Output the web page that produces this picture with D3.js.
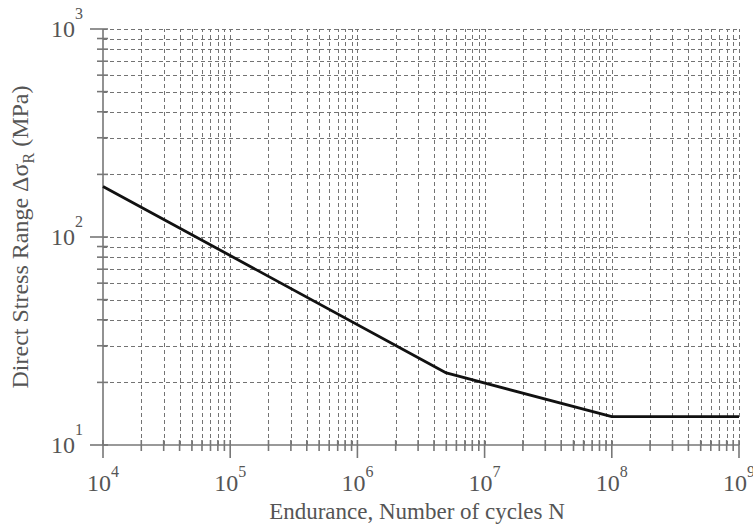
<!DOCTYPE html>
<html>
<head>
<meta charset="utf-8">
<script src="https://cdn.jsdelivr.net/npm/d3@7"></script>
<style>
  html, body { margin: 0; padding: 0; background: #fff; }
  svg { display: block; }
</style>
</head>
<body>
<svg id="chart" width="753" height="526"></svg>
<script>
// S-N curve: endurance (cycles) vs direct stress range (MPa)
const cycles = [1e4, 5e6, 1e8, 1e9];
const stressRange = [175, 22.2, 13.7, 13.7];

const xDecades = [4, 5, 6, 7, 8, 9];
const yDecades = [1, 2, 3];

const width = 753, height = 526;
const margin = { top: 29, right: 14, bottom: 81, left: 103 };
const serif = '"Liberation Serif"';
const textColor = "#555";

const svg = d3.select("#chart");

const x = d3.scaleLog()
  .domain([1e4, 1e9])
  .range([margin.left, width - margin.right]);
const y = d3.scaleLog()
  .domain([10, 1000])
  .range([height - margin.bottom, margin.top]);

// all decade and sub-decade values
function logValues(decades) {
  const vals = [];
  for (let i = 0; i < decades.length - 1; i++) {
    for (let k = 1; k <= 9; k++) vals.push(k * Math.pow(10, decades[i]));
  }
  vals.push(Math.pow(10, decades[decades.length - 1]));
  return vals;
}
const xVals = logValues(xDecades);
const yVals = logValues(yDecades);
const isMajor = v => Math.abs(Math.log10(v) - Math.round(Math.log10(v))) < 1e-9;

const x0 = x.range()[0], x1 = x.range()[1];
const y0 = y.range()[0], y1 = y.range()[1];

// dashed grid
const grid = svg.append("g")
  .attr("stroke", "#737373")
  .attr("stroke-width", 1)
  .attr("stroke-dasharray", "4,3")
  .attr("fill", "none");

grid.selectAll("line.v")
  .data(xVals.filter(v => v > 1e4))
  .join("line")
  .attr("class", "v")
  .attr("x1", d => Math.round(x(d)) + 0.5)
  .attr("x2", d => Math.round(x(d)) + 0.5)
  .attr("y1", y0)
  .attr("y2", y1);

grid.selectAll("line.h")
  .data(yVals.filter(v => v > 10))
  .join("line")
  .attr("class", "h")
  .attr("x1", x0)
  .attr("x2", x1)
  .attr("y1", d => Math.round(y(d)) + 0.5)
  .attr("y2", d => Math.round(y(d)) + 0.5);

// axes
const axes = svg.append("g").attr("stroke", "#777").attr("stroke-width", 1.6);

axes.append("line")
  .attr("x1", x0).attr("x2", x1)
  .attr("y1", y0).attr("y2", y0);
axes.append("line")
  .attr("x1", x0).attr("x2", x0)
  .attr("y1", y0).attr("y2", y1);

axes.selectAll("line.xt")
  .data(xVals)
  .join("line")
  .attr("class", "xt")
  .attr("x1", d => x(d)).attr("x2", d => x(d))
  .attr("y1", y0 - 5)
  .attr("y2", d => y0 + (isMajor(d) ? 13 : 6));

axes.selectAll("line.yt")
  .data(yVals)
  .join("line")
  .attr("class", "yt")
  .attr("y1", d => y(d)).attr("y2", d => y(d))
  .attr("x1", x0 + 5)
  .attr("x2", d => x0 - (isMajor(d) ? 13 : 6));

// tick labels as powers of ten
const xLab = svg.append("g").selectAll("text")
  .data(xDecades)
  .join("text")
  .style("font-family", serif)
  .attr("x", d => x(Math.pow(10, d)))
  .attr("y", y0 + 46)
  .attr("text-anchor", "middle")
  .attr("fill", textColor)
  .attr("font-size", 24);
xLab.append("tspan").text("10");
xLab.append("tspan").attr("dy", -14).attr("font-size", 16).text(d => d);

const yLab = svg.append("g").selectAll("text")
  .data(yDecades)
  .join("text")
  .style("font-family", serif)
  .attr("x", x0 - 20)
  .attr("y", d => y(Math.pow(10, d)) + 8)
  .attr("text-anchor", "end")
  .attr("fill", textColor)
  .attr("font-size", 24);
yLab.append("tspan").text("10");
yLab.append("tspan").attr("dy", -18).attr("font-size", 16).text(d => d);

// axis titles
svg.append("text")
  .style("font-family", serif)
  .attr("x", (x0 + x1) / 2 - 4)
  .attr("y", height - 7)
  .attr("text-anchor", "middle")
  .attr("fill", textColor)
  .attr("font-size", 23)
  .text("Endurance, Number of cycles N");

const yt = svg.append("text")
  .style("font-family", serif)
  .attr("transform", `translate(28,${(y0 + y1) / 2}) rotate(-90)`)
  .attr("text-anchor", "middle")
  .attr("fill", textColor)
  .attr("font-size", 24);
yt.append("tspan").text("Direct Stress Range \u0394\u03c3");
yt.append("tspan").attr("dy", 6).attr("font-size", 16).text("R");
yt.append("tspan").attr("dy", -6).text(" (MPa)");

// S-N curve
const line = d3.line()
  .x(d => x(d[0]))
  .y(d => y(d[1]));

svg.append("path")
  .datum(cycles.map((c, i) => [c, stressRange[i]]))
  .attr("d", line)
  .attr("fill", "none")
  .attr("stroke", "#111")
  .attr("stroke-width", 2.8)
  .attr("stroke-linejoin", "round");
</script>
</body>
</html>
